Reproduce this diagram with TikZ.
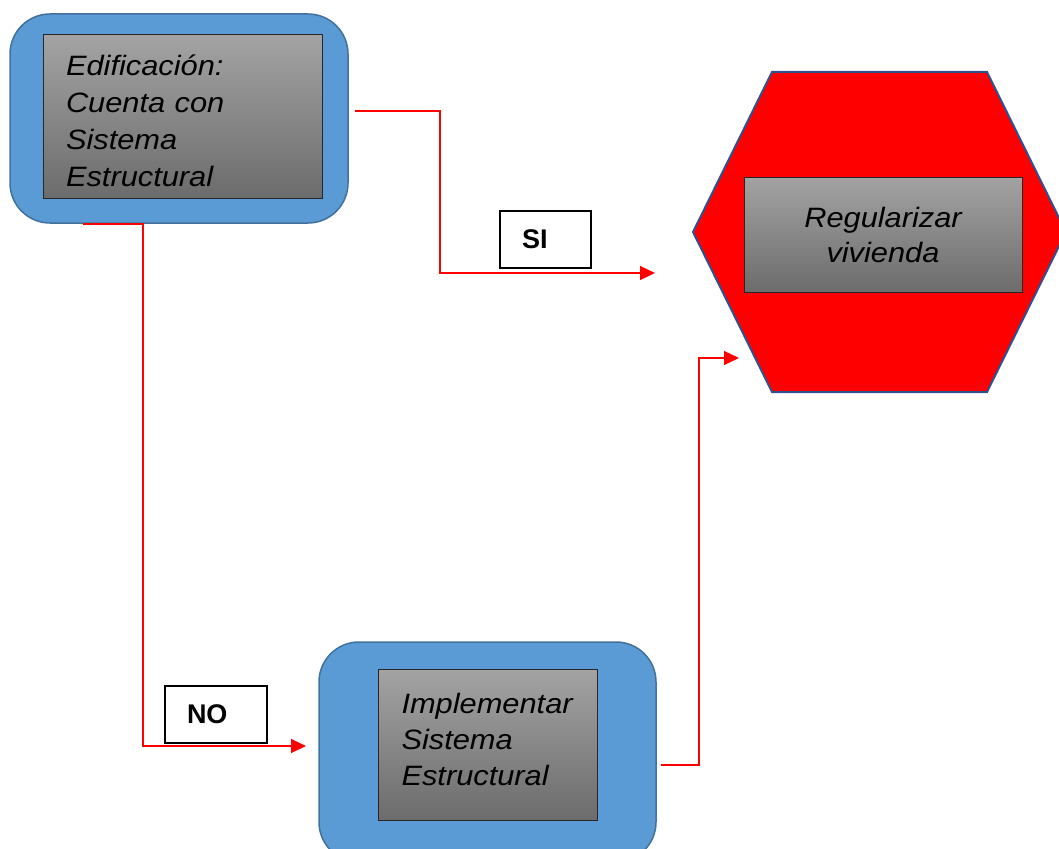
\documentclass[tikz,border=0pt]{standalone}
\usepackage{fontspec}
\setmainfont{Liberation Sans}
\newfontfamily\boxfont{Liberation Sans}[FakeStretch=1.1]
\usepackage{tikz}
\usetikzlibrary{calc}
\usetikzlibrary{arrows.meta,positioning}

\definecolor{cajaAzul}{HTML}{5B9BD5}
\definecolor{bordeAzul}{HTML}{41719C}
\definecolor{bordeHex}{HTML}{2F528F}
\definecolor{grisClaro}{HTML}{A3A3A3}
\definecolor{grisOscuro}{HTML}{6C6C6C}

\tikzset{
	caja/.style={draw=bordeAzul,line width=1.5pt,fill=cajaAzul,rounded corners=40pt},
	texto/.style={draw=black!85,line width=1pt,top color=grisClaro,bottom color=grisOscuro,
		font=\boxfont\itshape\fontsize{28}{37}\selectfont,inner sep=0pt},
	etiqueta/.style={draw=black,line width=1.5pt,fill=white,minimum height=57pt,
		inner xsep=22pt,inner ysep=0pt,align=left,font=\bfseries\fontsize{27}{30}\selectfont},
	flecha/.style={red,line width=1.2pt,-{Triangle[length=15pt,width=14pt]}}
}

\begin{document}
\begin{tikzpicture}[x=1pt,y=-1pt]
\useasboundingbox (0,0) rectangle (1059,848);

%Hexagono
\filldraw[fill=red,draw=bordeHex,line width=2pt] (772,72) -- (987,72) -- (1066,232) -- (987,392) -- (772,392) -- (693,232) -- cycle;

%Cajas
\node[caja,minimum width=338pt,minimum height=209pt] (edif) at (179,118.5) {};
\node[caja,minimum width=337pt,minimum height=220pt] (impl) at (487.5,752) {};

\node[texto,minimum width=279pt,minimum height=163pt,text width=233pt,align=left,inner xsep=23pt] (edifTxt) at (182.5,116.5) {\rule{0pt}{30pt}Edificación:\\Cuenta con\\Sistema\\Estructural};
\node[texto,minimum width=219pt,minimum height=151pt,text width=173pt,align=left,inner xsep=23pt,font=\boxfont\itshape\fontsize{28}{36}\selectfont] (implTxt) at (488,744.5) {Implementar\\Sistema\\Estructural\rule[-11pt]{0pt}{0pt}};
\node[texto,minimum width=278pt,minimum height=115pt,align=center,font=\boxfont\itshape\fontsize{28}{35}\selectfont] (regTxt) at (883,234.5) {Regularizar\\vivienda};

%Etiquetas
\node[etiqueta,text width=47pt] (si) at (545.5,239.5) {SI};
\node[etiqueta,text width=58pt] (no) at (216,714.5) {NO};

%Puntos de las flechas
\coordinate (siIni) at (355,111);
\coordinate (siMed) at (440,190);
\coordinate (siFin) at (655,273);
\coordinate (noIni) at (83,224);
\coordinate (noMed) at (143,480);
\coordinate (noFin) at (306,746);
\coordinate (impIni) at (661,765);
\coordinate (impMed) at (699,560);
\coordinate (impFin) at (739,358);

%Flechas
\draw[flecha] (siIni) -| (siMed) |- (siFin);
\draw[flecha] (noIni) -| (noMed) |- (noFin);
\draw[flecha] (impIni) -| (impMed) |- (impFin);

\end{tikzpicture}
\end{document}
